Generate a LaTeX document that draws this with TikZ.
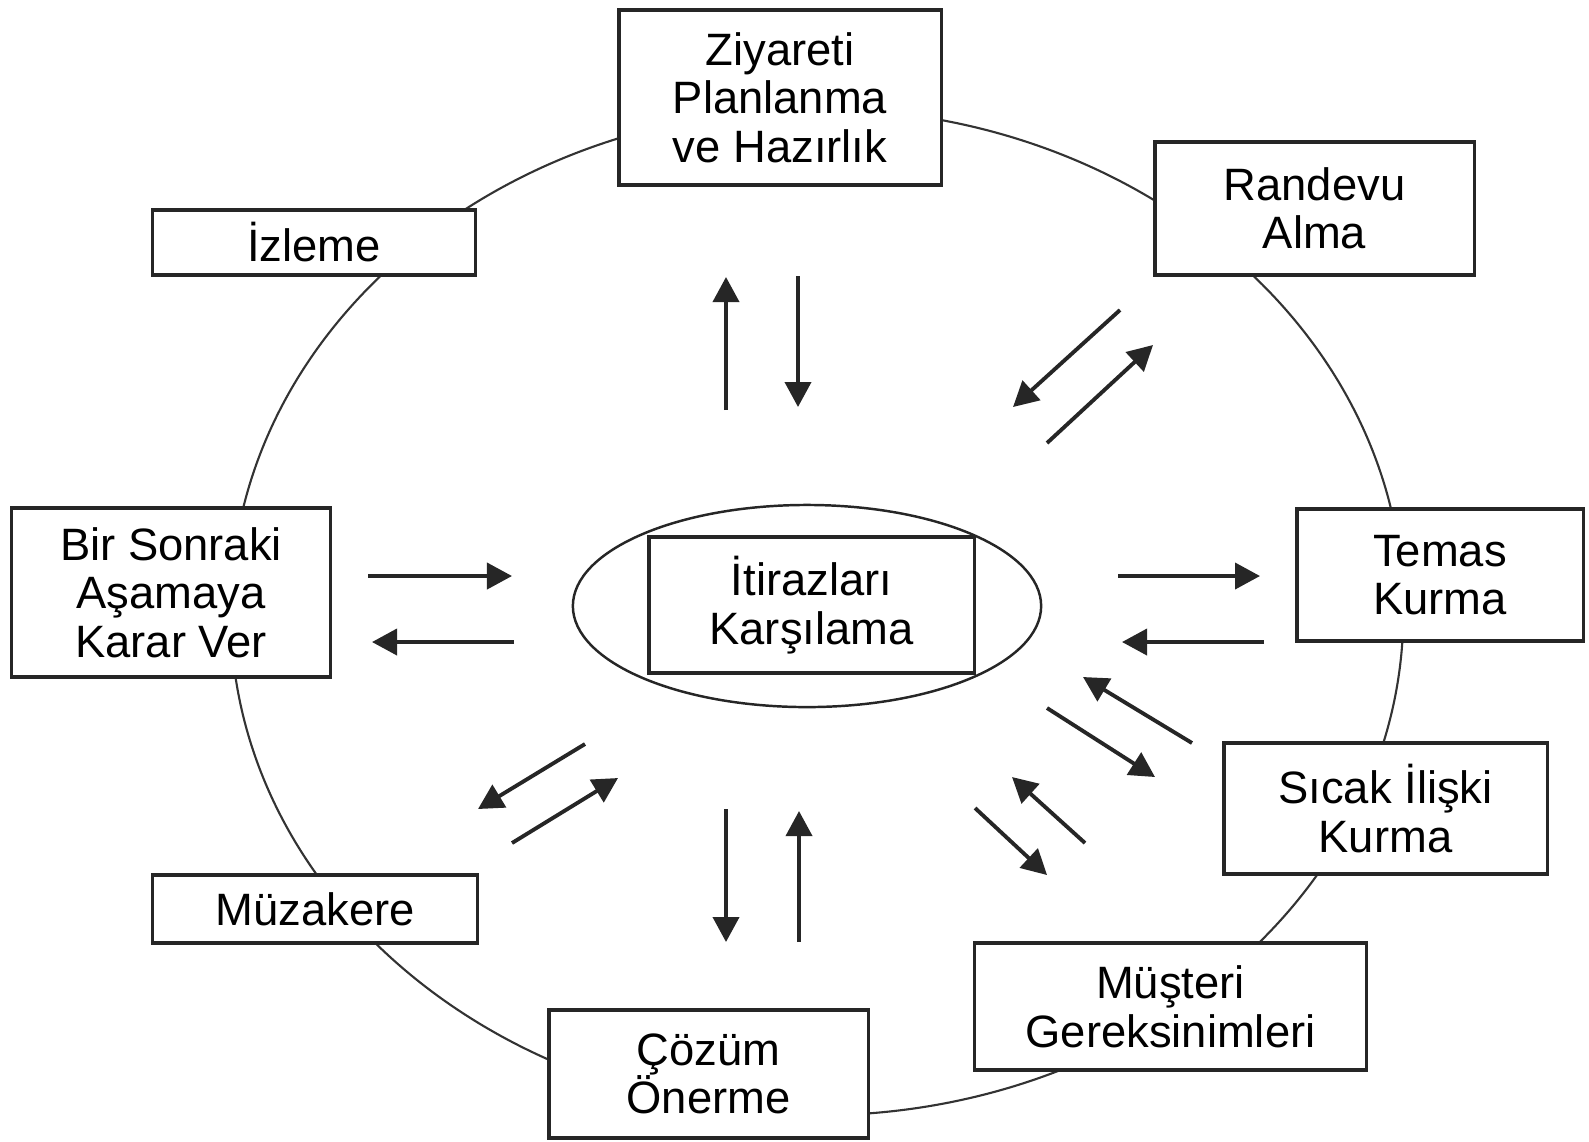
\documentclass[tikz,border=0pt]{standalone}
\usepackage{fontspec}
\setmainfont{Liberation Sans}
\usetikzlibrary{arrows.meta}
\tikzset{
  stage/.style={draw=black!85, line width=0.9pt, fill=white, align=center,
    inner sep=0pt, font=\fontsize{12.9}{13.8}\selectfont},
  flow/.style={line width=1.1pt, draw=black!85,
    -{Triangle[length=0.25cm, width=0.26cm]}},
}
\begin{document}
\begin{tikzpicture}[x=0.01cm, y=-0.01cm]
  \useasboundingbox (0,0) rectangle (1589,1141);
  % outer cycle
  \draw[line width=0.6pt, black!80] (817,612) ellipse [x radius=5.86cm, y radius=5.03cm];
  % stages
  \node[stage, minimum width=3.22cm, minimum height=1.75cm] (plan) at (780,97.5) {Ziyareti\\Planlanma\\ve Hazırlık};
  \node[stage, minimum width=3.19cm, minimum height=1.33cm] (randevu) at (1314.5,208.5) {Randevu\\Alma};
  \node[stage, minimum width=2.86cm, minimum height=1.32cm] (temas) at (1440,575) {Temas\\Kurma};
  \node[stage, minimum width=3.23cm, minimum height=1.31cm] (sicak) at (1385.5,808.5) {Sıcak İlişki\\Kurma};
  \node[stage, minimum width=3.91cm, minimum height=1.27cm] (musteri) at (1170.5,1006.5) {Müşteri\\Gereksinimleri};
  \node[stage, minimum width=3.19cm, minimum height=1.28cm] (cozum) at (708.5,1074) {Çözüm\\Önerme};
  \node[stage, minimum width=3.24cm, minimum height=0.68cm] (muzakere) at (315,909) {Müzakere};
  \node[stage, minimum width=3.18cm, minimum height=1.69cm] (karar) at (171,592.5) {Bir Sonraki\\Aşamaya\\Karar Ver};
  \node[stage, minimum width=3.22cm, minimum height=0.65cm] (izleme) at (314,242.5) {İzleme};
  % centre
  \draw[line width=0.7pt, black!85] (807,606) ellipse [x radius=2.34cm, y radius=1.01cm];
  \node[stage, minimum width=3.25cm, minimum height=1.36cm] (itiraz) at (811.5,605) {İtirazları\\Karşılama};
  % arrows to and from the centre
  \foreach \n/\sx/\sy/\ex/\ey in {1/726/410/726/277, 2/798/276/798/407,
      3/1120/310/1013/407, 4/1047/443/1153/345, 5/1118/576/1260/576,
      6/1264/642/1122/642, 7/1192/743/1083/677, 8/1047/708/1155/777,
      9/1085/843/1012/777, 10/975/808/1047/875, 11/726/809/726/942,
      12/799/942/799/811, 13/585/744/478/809, 14/512/843/618/778,
      15/368/576/512/576, 16/514/642/372/642} {
    \coordinate (s\n) at (\sx,\sy);
    \coordinate (e\n) at (\ex,\ey);
    \draw[flow] (s\n) -- (e\n);
  }
\end{tikzpicture}
\end{document}
